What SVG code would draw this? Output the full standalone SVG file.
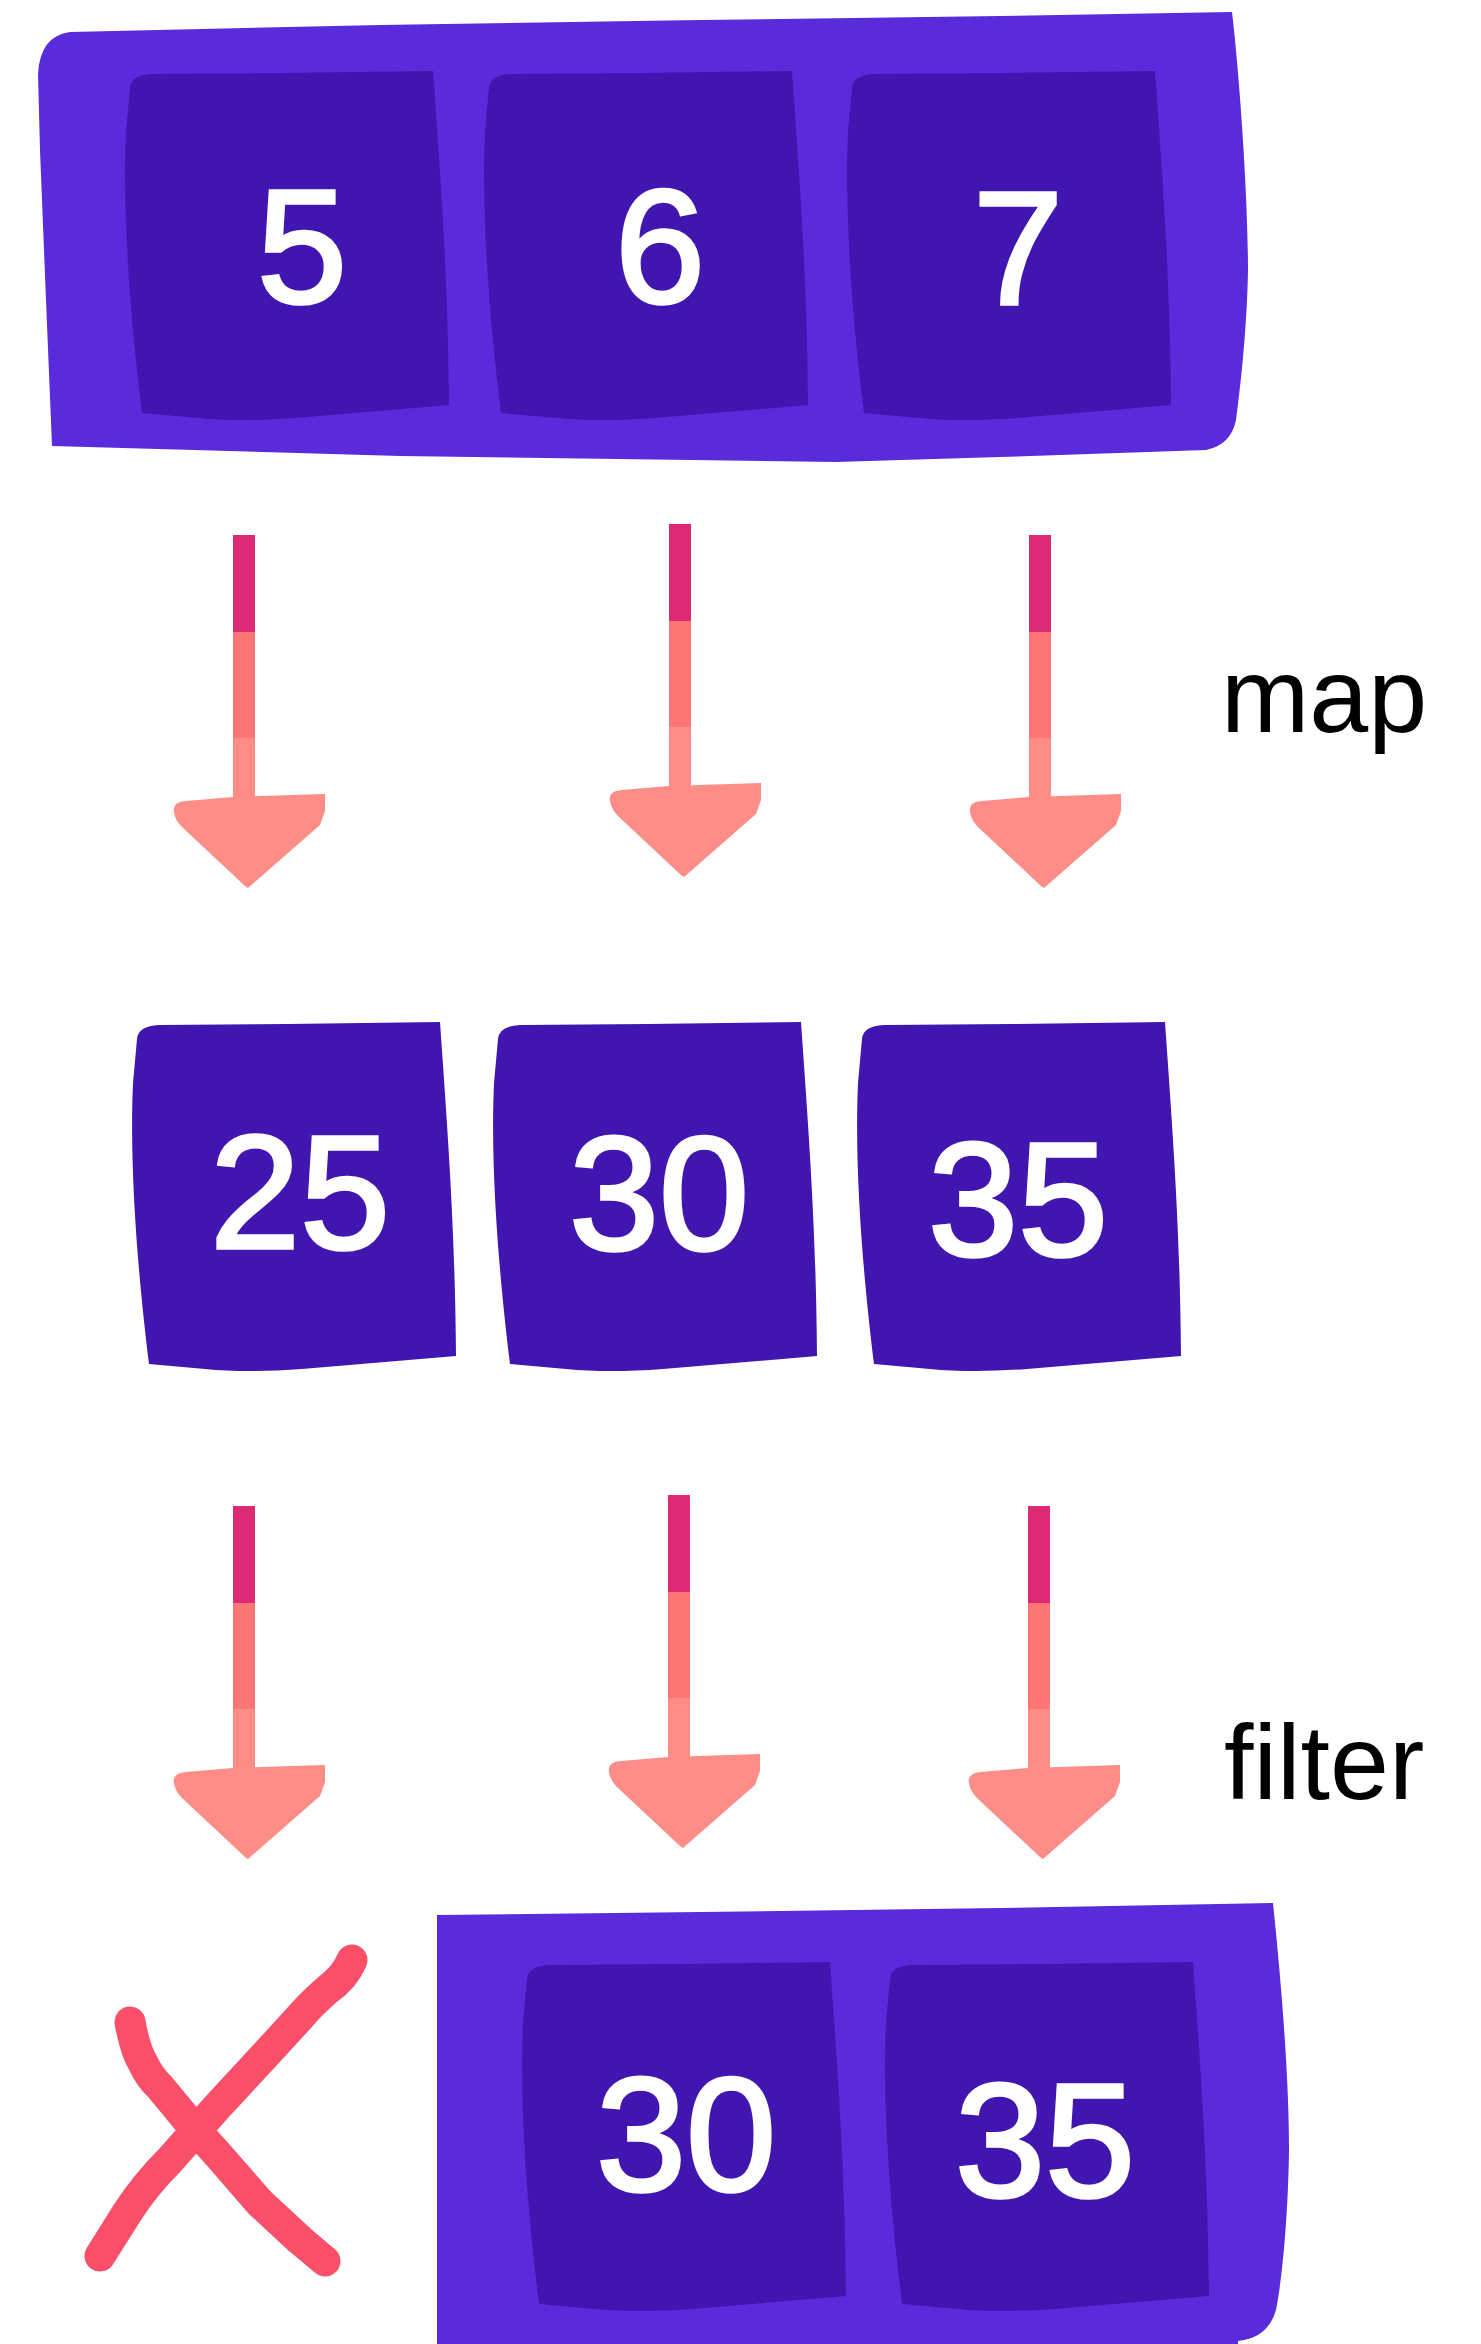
<svg xmlns="http://www.w3.org/2000/svg" xmlns:xlink="http://www.w3.org/1999/xlink" width="1481" height="2344" viewBox="0 0 1481 2344">
<style>
.outer{fill:#5A2BDA}
.inner{fill:#4115B0}
.num{font-family:"Liberation Sans",Arial,Helvetica,sans-serif;font-size:162px;fill:#FFFFFF;stroke:#FFFFFF;stroke-width:3.5;stroke-linejoin:miter;text-anchor:middle}
.lbl{font-family:"Liberation Sans",Arial,Helvetica,sans-serif;font-size:106px;fill:#000000}
.dark{fill:#DC2A74}
.mid{fill:#FD7676}
.light{fill:#FD8D86}
.cross{fill:none;stroke:#F94F68;stroke-width:31;stroke-linecap:round;stroke-linejoin:round}
</style>
<defs>
<path id="box" d="M 0,16 Q 1,3 22,2 L 150,1 L 303,-1 C 310,100 318,200 319,333 L 165,346 Q 110,350 68,346 L 12,341 C 2,260 -8,150 -4,60 Z"/>
<g id="arrow">
<rect class="dark" x="-11" y="0" width="22" height="97"/>
<rect class="mid" x="-11" y="97" width="22" height="106"/>
<rect class="light" x="-11" y="203" width="22" height="64"/>
<path class="light" d="M -70,277 Q -72,267 -58,266 L -11,262 L 81,259 L 81,276 L 76,290 L 4,353 L 1,351 L -62,292 Q -69,285 -70,277 Z"/>
</g>
</defs>
<rect x="0" y="0" width="1481" height="2344" fill="#FFFFFF"/>

<g id="input-array">
<path class="outer" d="M 38,74 Q 40,36 70,32 L 380,25 L 700,20 L 1000,16 L 1232,12 C 1240,80 1248,200 1248,270 C 1247,330 1240,390 1236,420 Q 1231,445 1206,450 L 1000,457 L 836,462 L 400,456 L 52,446 L 46,300 L 40,150 Z"/>
</g>
<g id="node-5">
<use xlink:href="#box" href="#box" class="inner" x="130" y="72"/>
<text class="num" x="302" y="302">5</text>
</g>
<g id="node-6">
<use xlink:href="#box" href="#box" class="inner" x="489" y="72"/>
<text class="num" x="660" y="302">6</text>
</g>
<g id="node-7">
<use xlink:href="#box" href="#box" class="inner" x="852" y="72"/>
<text class="num" x="1018" y="304">7</text>
</g>

<g id="node-25">
<use xlink:href="#box" href="#box" class="inner" x="137" y="1023"/>
<text class="num" x="300" y="1248">25</text>
</g>
<g id="node-30a">
<use xlink:href="#box" href="#box" class="inner" x="498" y="1023"/>
<text class="num" x="659" y="1249">30</text>
</g>
<g id="node-35a">
<use xlink:href="#box" href="#box" class="inner" x="862" y="1023"/>
<text class="num" x="1018" y="1255">35</text>
</g>

<g id="output-array">
<path class="outer" d="M 437,1915 L 700,1912 L 1000,1908 L 1273,1903 C 1282,1990 1289,2080 1289,2150 C 1288,2220 1282,2280 1276,2310 Q 1268,2338 1238,2341 L 1238,2344 L 437,2344 Z"/>
</g>
<g id="node-30b">
<use xlink:href="#box" href="#box" class="inner" x="527" y="1963"/>
<text class="num" x="686" y="2190">30</text>
</g>
<g id="node-35b">
<use xlink:href="#box" href="#box" class="inner" x="890" y="1963"/>
<text class="num" x="1045" y="2196">35</text>
</g>

<g id="rejected-mark">
<path class="cross" d="M 352,1960 Q 345,1977 327,1990 Q 310,2005 300,2017 L 267,2053 L 217,2107 L 170,2160 Q 145,2185 127,2213 L 100,2256"/>
<path class="cross" d="M 130,2022 Q 135,2050 143,2063 Q 150,2078 160,2087 L 193,2127 L 220,2157 L 260,2203 L 300,2240 L 325,2261"/>
</g>

<g id="connectors">
<use xlink:href="#arrow" href="#arrow" x="244" y="535"/>
<use xlink:href="#arrow" href="#arrow" x="680" y="524"/>
<use xlink:href="#arrow" href="#arrow" x="1040" y="535"/>
<use xlink:href="#arrow" href="#arrow" x="244" y="1506"/>
<use xlink:href="#arrow" href="#arrow" x="679" y="1495"/>
<use xlink:href="#arrow" href="#arrow" x="1039" y="1506"/>
</g>

<g id="labels">
<text class="lbl" x="1221" y="732">map</text>
<text class="lbl" x="1224" y="1799">filter</text>
</g>
</svg>
